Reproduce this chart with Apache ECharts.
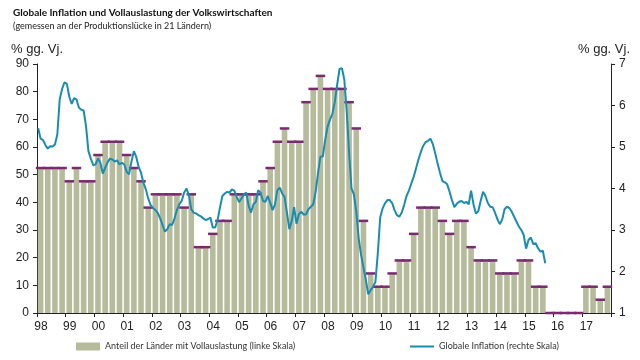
<!DOCTYPE html>
<html><head><meta charset="utf-8">
<script src="https://cdn.jsdelivr.net/npm/echarts@6/dist/echarts.min.js"></script>
<style>html,body{margin:0;padding:0;background:#fff}#c{width:640px;height:360px}</style>
</head><body><div id="c"></div>
<script>
// Year tick labels (one per year, 1998-2017)
const yearLabels = ['98','99','00','01','02','03','04','05','06','07','08','09','10','11','12','13','14','15','16','17'];

// Share of countries at full capacity, quarterly 1998Q1-2017Q4 (% of 21 countries, left axis)
const shareFullCapacity = [
  52.4,52.4,52.4,52.4, 47.6,52.4,47.6,47.6,
  57.1,61.9,61.9,61.9, 57.1,52.4,47.6,38.1,
  42.9,42.9,42.9,42.9, 38.1,42.9,23.8,23.8,
  28.6,33.3,33.3,42.9, 42.9,42.9,42.9,47.6,
  52.4,61.9,66.7,61.9, 61.9,76.2,81.0,85.7,
  81.0,81.0,81.0,76.2, 66.7,33.3,14.3,9.5,
  9.5,14.3,19.0,19.0, 28.6,38.1,38.1,38.1,
  33.3,28.6,33.3,33.3, 23.8,19.0,19.0,19.0,
  14.3,14.3,14.3,19.0, 19.0,9.5,9.5,0,
  0,0,0,0, 9.5,9.5,4.8,9.5
];

// Global inflation, monthly from Jan 1998 (% y/y, right axis)
const globalInflation = [
  5.45,5.20,5.17,5.05,4.96,5.02,5.01,5.06,5.30,6.15,6.40,6.56,
  6.52,6.21,6.04,6.18,6.15,5.95,5.90,5.88,5.50,4.90,4.72,4.56,
  4.58,4.72,4.62,4.36,4.50,4.63,4.72,4.70,4.65,4.68,4.58,4.62,
  4.58,4.40,4.34,4.65,4.90,4.76,4.52,4.38,4.14,3.98,3.76,3.60,
  3.53,3.48,3.41,3.28,3.12,2.96,3.02,3.14,3.12,3.28,3.48,3.62,
  3.70,3.90,4.00,3.84,3.50,3.42,3.40,3.36,3.33,3.28,3.24,3.26,
  3.30,3.06,3.06,3.24,3.54,3.82,3.88,3.92,3.90,3.98,3.95,3.80,
  3.67,3.76,3.86,3.90,3.58,3.42,3.62,3.68,3.96,3.90,3.70,3.68,
  3.82,3.66,3.48,3.62,3.96,4.02,3.88,3.80,3.42,3.02,3.22,3.55,
  3.15,3.38,3.44,3.37,3.38,3.50,3.56,3.62,3.92,4.37,4.77,4.77,
  5.17,5.49,5.66,5.80,6.08,6.50,6.88,6.90,6.62,5.85,4.85,4.00,
  3.86,3.45,2.80,2.40,2.10,1.80,1.45,1.55,1.63,1.75,2.44,3.30,
  3.52,3.64,3.72,3.72,3.65,3.48,3.36,3.32,3.42,3.60,3.82,3.95,
  4.12,4.28,4.49,4.70,4.88,5.03,5.12,5.15,5.20,5.07,4.85,4.60,
  4.38,4.18,4.15,4.10,3.92,3.72,3.55,3.63,3.68,3.70,3.65,3.68,
  3.62,3.95,3.62,3.40,3.45,3.70,3.92,3.82,3.65,3.56,3.55,3.42,
  3.26,3.14,3.25,3.50,3.56,3.53,3.44,3.32,3.20,3.08,3.00,2.88,
  2.55,2.76,2.82,2.66,2.68,2.56,2.48,2.50,2.20
];

const barName = 'Anteil der Länder mit Vollauslastung (linke Skala)';
const lineName = 'Globale Inflation (rechte Skala)';

const barData = shareFullCapacity.map((v, i) => [i + 0.5, v]);
const lineData = globalInflation.map((v, m) => [(m + 0.5) / 3, v]);

const axisColor = '#222';
const labelFont = 'Liberation Sans, Arial, sans-serif';
const textFont = 'Lato, "Noto Sans", sans-serif';

const chart = echarts.init(document.getElementById('c'), null, {renderer: 'canvas'});
chart.setOption({
  animation: false,
  backgroundColor: '#ffffff',
  title: [
    {text: 'Globale Inflation und Vollauslastung der Volkswirtschaften', left: 8, top: 3,
     textStyle: {fontFamily: textFont, fontSize: 10, fontWeight: 'bold', color: '#111'}},
    {text: '(gemessen an der Produktionslücke in 21 Ländern)', left: 8, top: 17,
     textStyle: {fontFamily: textFont, fontSize: 9, fontWeight: 'normal', color: '#222'}}
  ],
  grid: {left: 37, right: 29, top: 64, bottom: 47, containLabel: false},
  legend: [
    {data: [{name: barName, icon: 'rect'}], left: 71, top: 337, itemWidth: 24, itemHeight: 8,
     selectedMode: false, textStyle: {fontFamily: textFont, fontSize: 9, color: '#333'}},
    {data: [{name: lineName, icon: 'rect'}], left: 405, top: 337, itemWidth: 24, itemHeight: 2,
     selectedMode: false, textStyle: {fontFamily: textFont, fontSize: 9, color: '#333'}}
  ],
  xAxis: {
    type: 'value', min: 0, max: 80, interval: 4,
    axisLine: {show: true, lineStyle: {color: axisColor, width: 1}},
    axisTick: {show: true, length: 4, lineStyle: {color: axisColor}},
    splitLine: {show: false},
    axisLabel: {
      fontFamily: labelFont, fontSize: 12, color: axisColor, margin: 8,
      padding: [0, 0, 0, 8],
      formatter: v => (v < 80 ? yearLabels[v / 4] : '')
    }
  },
  yAxis: [
    {type: 'value', min: 0, max: 90, interval: 10, position: 'left',
     name: '% gg. Vj.', nameLocation: 'end', nameGap: 8,
     nameTextStyle: {fontFamily: labelFont, fontSize: 13, color: axisColor, align: 'center'},
     axisLine: {show: true, lineStyle: {color: axisColor}},
     axisTick: {show: true, length: 4, lineStyle: {color: axisColor}},
     splitLine: {show: false},
     axisLabel: {fontFamily: labelFont, fontSize: 12, color: axisColor, margin: 8}},
    {type: 'value', min: 1, max: 7, interval: 1, position: 'right',
     name: '% gg. Vj.', nameLocation: 'end', nameGap: 8,
     nameTextStyle: {fontFamily: labelFont, fontSize: 13, color: axisColor, align: 'center', padding: [0, 14, 0, 0]},
     axisLine: {show: true, lineStyle: {color: axisColor}},
     axisTick: {show: true, length: 4, lineStyle: {color: axisColor}},
     splitLine: {show: false},
     axisLabel: {fontFamily: labelFont, fontSize: 12, color: axisColor, margin: 8}}
  ],
  series: [
    {name: barName, type: 'bar', yAxisIndex: 0, barWidth: 5.6, data: barData,
     itemStyle: {color: '#b6bc9b'}, z: 2},
    {name: 'tops', type: 'scatter', yAxisIndex: 0, data: barData, symbol: 'rect',
     symbolSize: [9.5, 2.5], itemStyle: {color: '#7b2a70', opacity: 1}, z: 3, silent: true},
    {name: lineName, type: 'line', yAxisIndex: 1, data: lineData, showSymbol: false,
     symbol: 'none', color: '#1a8cb1',
     lineStyle: {color: '#1a8cb1', width: 2}, itemStyle: {color: '#1a8cb1'}, z: 4}
  ]
});
</script></body></html>
